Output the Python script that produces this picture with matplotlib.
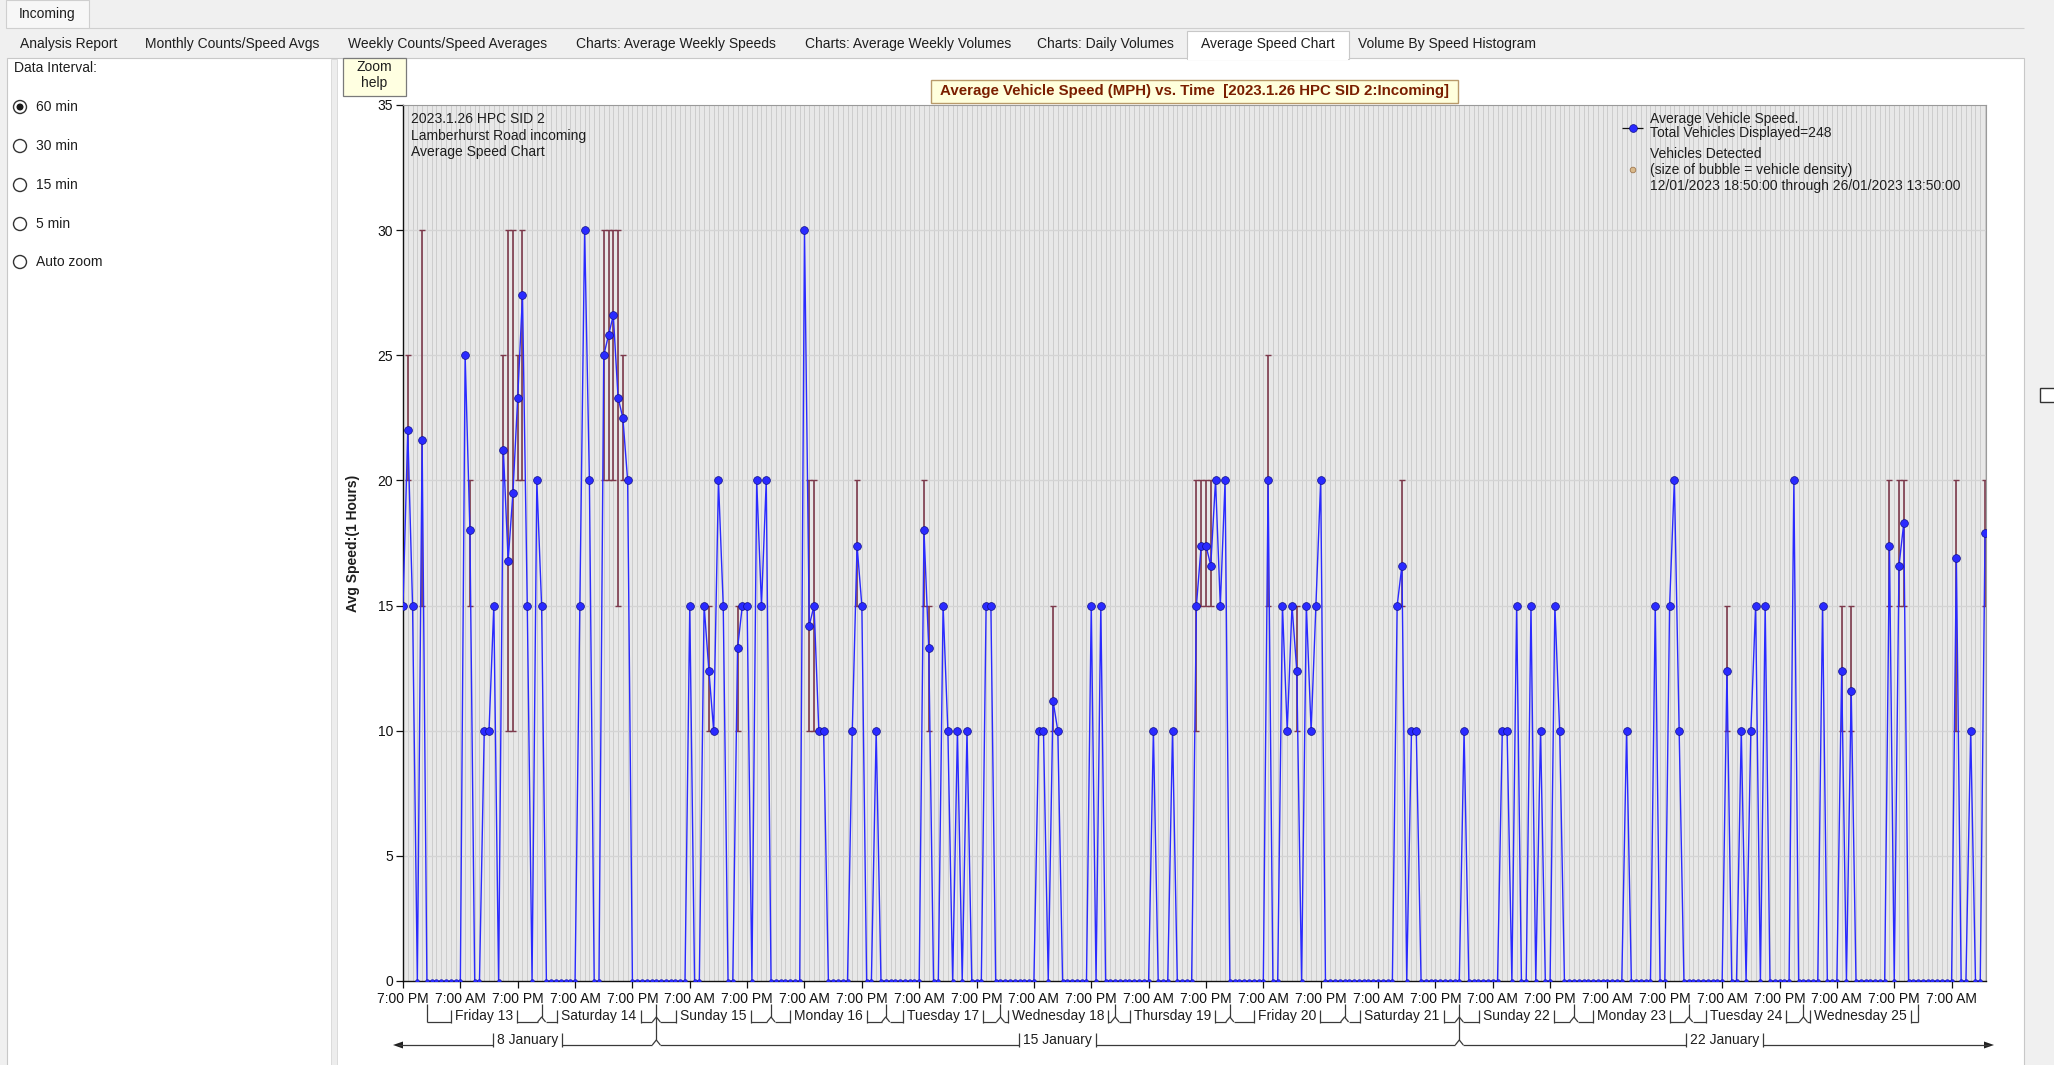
"""Average vehicle speed chart (SID 2, Lamberhurst Road incoming), 60 min interval.

Rebuilds the 'Average Speed Chart' tab of the speed logger viewer:
hourly average speed (blue), min/max speed range per hour (maroon),
plus the surrounding window chrome.

Writes:
    out.png
"""
import numpy as np
import matplotlib
matplotlib.use("Agg")
import matplotlib.pyplot as plt
from matplotlib.patches import Rectangle, Circle, Polygon


W, H = 2054, 1065

# ---------- data (hour 0 = 12/01/2023 19:00, one value per hour) ----------
N_HOURS = 332
X_END = 331.2

SPEED_HOURS = [
    0, 1, 2, 4, 13, 14, 17, 18, 19, 21, 22, 23, 24, 25, 26, 28, 29,
    37, 38, 39, 42, 43, 44, 45, 46, 47, 60, 63, 64, 65, 66, 67,
    70, 71, 72, 74, 75, 76, 84, 85, 86, 87, 88, 94, 95, 96, 99,
    109, 110, 113, 114, 116, 118, 122, 123, 133, 134, 136, 137,
    144, 146, 157, 161, 166, 167, 168, 169, 170, 171, 172, 181,
    184, 185, 186, 187, 189, 190, 191, 192, 208, 209, 211, 212,
    222, 230, 231, 233, 236, 238, 241, 242, 256, 262, 265, 266, 267,
    277, 280, 282, 283, 285, 291, 297, 301, 303, 311, 313, 314,
    325, 328, 331,
]
SPEED_VALUES = [
    15, 22, 15, 21.6, 25, 18, 10, 10, 15, 21.2, 16.8, 19.5, 23.3, 27.4, 15, 20, 15,
    15, 30, 20, 25, 25.8, 26.6, 23.3, 22.5, 20, 15, 15, 12.4, 10, 20, 15,
    13.3, 15, 15, 20, 15, 20, 30, 14.2, 15, 10, 10, 10, 17.4, 15, 10,
    18, 13.3, 15, 10, 10, 10, 15, 15, 10, 10, 11.2, 10,
    15, 15, 10, 10, 15, 17.4, 17.4, 16.6, 20, 15, 20, 20,
    15, 10, 15, 12.4, 15, 10, 15, 20, 15, 16.6, 10, 10,
    10, 10, 10, 15, 15, 10, 15, 10, 10, 15, 15, 20, 10,
    12.4, 10, 10, 15, 15, 20, 15, 12.4, 11.6, 17.4, 16.6, 18.3,
    16.9, 10, 17.9,
]

RANGE_HOURS = [1, 4, 14, 21, 22, 23, 24, 25, 42, 43, 44, 45, 46, 64, 70, 85, 86,
               95, 109, 110, 136, 166, 167, 168, 169, 181, 187, 209, 277, 301,
               303, 311, 313, 314, 325, 331]
RANGE_LOW = [20, 15, 15, 20, 10, 10, 20, 20, 20, 20, 20, 15, 20, 10, 10, 10, 10,
             15, 15, 10, 10, 10, 15, 15, 15, 15, 10, 15, 10, 10,
             10, 15, 15, 15, 10, 15]
RANGE_HIGH = [25, 30, 20, 25, 30, 30, 25, 30, 30, 30, 30, 30, 25, 15, 15, 20, 20,
              20, 20, 15, 15, 20, 20, 20, 20, 25, 15, 20, 15, 15,
              15, 20, 20, 20, 20, 20]

TICK_LABELS = ["7:00 PM", "7:00 AM"]
FIRST_MIDNIGHT = 5          # 13/01 00:00
DAY_NAMES = ["Friday 13", "Saturday 14", "Sunday 15", "Monday 16", "Tuesday 17",
             "Wednesday 18", "Thursday 19", "Friday 20", "Saturday 21", "Sunday 22",
             "Monday 23", "Tuesday 24", "Wednesday 25"]
WEEK_LABELS = ["8 January", "15 January", "22 January"]
WEEK_BOUNDS = [53, 221]     # 15/01 and 22/01 midnight

TABS = ["Analysis Report", "Monthly Counts/Speed Avgs", "Weekly Counts/Speed Averages",
        "Charts: Average Weekly Speeds", "Charts: Average Weekly Volumes",
        "Charts: Daily Volumes", "Average Speed Chart", "Volume By Speed Histogram"]
INTERVALS = ["60 min", "30 min", "15 min", "5 min", "Auto zoom"]

TITLE = "Average Vehicle Speed (MPH) vs. Time  [2023.1.26 HPC SID 2:Incoming]"
INFO = ["2023.1.26 HPC SID 2", "Lamberhurst Road incoming", "Average Speed Chart"]

BLUE = "#2a2aff"
MAROON = "#7d3a4c"
INK = "#1e1e1e"


# ---------- helpers ----------

def seg(ax, xs, ys, color="#3a3a3a", lw=0.9):
    ax.plot(xs, ys, color=color, lw=lw, solid_capstyle="butt", clip_on=False)


def draw_chrome(bg):
    """Window chrome in pixel coordinates (y down)."""
    bg.add_patch(Rectangle((0, 0), W, H, color="#f0f0f0"))
    # top-level tab
    bg.add_patch(Rectangle((6, 0), 83, 28, fc="#f7f7f7", ec="#cfcfcf", lw=0.8))
    bg.text(47, 14, "Incoming", ha="center", va="center", fontsize=10, color=INK)
    seg(bg, [89, 2024], [28, 28], color="#cfcfcf", lw=0.8)
    # second row of tabs
    centers = [69, 232, 448, 676, 908, 1105, 1268, 1447]
    bg.add_patch(Rectangle((7, 58), 2017, 1100, fc="white", ec="#c8c8c8", lw=0.8))
    bg.add_patch(Rectangle((1187, 31), 162, 28, fc="white", ec="#c8c8c8", lw=0.8))
    bg.add_patch(Rectangle((1188, 57), 160, 3, fc="white", ec="none"))
    for cx, name in zip(centers, TABS):
        bg.text(cx, 44, name, ha="center", va="center", fontsize=10, color=INK)
    # left panel separator
    bg.add_patch(Rectangle((331, 58.5), 6, 1100, fc="#ededed", ec="#d6d6d6", lw=0.6))
    # data interval radios
    bg.text(14, 68, "Data Interval:", ha="left", va="center", fontsize=10, color=INK)
    for i, (y, name) in enumerate(zip([107, 146, 185, 224, 262], INTERVALS)):
        bg.add_patch(Circle((20, y), 6.5, fc="white", ec="#333333", lw=1.0))
        if i == 0:
            bg.add_patch(Circle((20, y), 3.5, fc="#1a1a1a", ec="none"))
        bg.text(36, y, name, ha="left", va="center", fontsize=10, color=INK)
    # zoom help tooltip
    bg.add_patch(Rectangle((343, 58), 63, 38, fc="#ffffe1", ec="#7a7a7a", lw=0.9))
    bg.text(374.5, 67, "Zoom", ha="center", va="center", fontsize=10, color=INK)
    bg.text(374.5, 83, "help", ha="center", va="center", fontsize=10, color=INK)
    # title box
    bg.add_patch(Rectangle((931, 80), 527, 23, fc="#ffffdc", ec="#b89a6a", lw=1.0))
    bg.text(1194.5, 91.5, TITLE, ha="center", va="center", fontsize=10.8,
            fontweight="bold", color="#7a1e00")
    # stray checkbox at the right edge
    bg.add_patch(Rectangle((2040, 388), 16, 14, fc="white", ec="#333333", lw=1.0))


def draw_plot(ax):
    hours = np.arange(N_HOURS)
    speeds = np.zeros(N_HOURS)
    speeds[SPEED_HOURS] = SPEED_VALUES
    zero_h = hours[speeds == 0]

    ax.set_facecolor("#e8e8e8")
    ax.vlines(hours, 0, 35, colors="#cdcdcd", lw=0.7, zorder=0)
    for y in range(5, 35, 5):
        ax.axhline(y, color="#d4d4d4", lw=1.0, zorder=0.5)

    ax.vlines(RANGE_HOURS, RANGE_LOW, RANGE_HIGH, colors=MAROON, lw=1.2, zorder=2)
    ax.plot(RANGE_HOURS, RANGE_LOW, "_", ms=5, mew=1.0, color=MAROON, zorder=2)
    ax.plot(RANGE_HOURS, RANGE_HIGH, "_", ms=5, mew=1.0, color=MAROON, zorder=2)

    ax.plot(hours, speeds, color=BLUE, lw=1.0, zorder=3)
    ax.plot(zero_h, np.zeros(len(zero_h)), "o", ms=2.8, mfc=BLUE, mec="#1010a0",
            mew=0.3, zorder=4)
    ax.plot(SPEED_HOURS, SPEED_VALUES, "o", ms=5.6, mfc=BLUE, mec="#10108a",
            mew=0.5, zorder=4)

    ax.set_xlim(0, X_END)
    ax.set_ylim(0, 35)
    ticks = np.arange(0, N_HOURS, 12)
    ax.set_xticks(ticks)
    ax.set_xticklabels([TICK_LABELS[i % 2] for i in range(len(ticks))])
    ax.set_yticks(range(0, 36, 5))
    ax.tick_params(axis="both", labelsize=10, colors="#111111", length=5,
                   width=0.9, pad=2)
    ax.tick_params(axis="x", pad=3)
    for side in ("left", "bottom"):
        ax.spines[side].set_color("#111111")
        ax.spines[side].set_linewidth(1.0)
    for side in ("top", "right"):
        ax.spines[side].set_color("#9a9a9a")
        ax.spines[side].set_linewidth(0.8)
    ax.set_ylabel("Avg Speed:(1 Hours)", fontsize=10, fontweight="bold", color=INK)
    ax.yaxis.set_label_coords(-0.027, 0.5)

    for i, line in enumerate(INFO):
        ax.text(0.005, 0.984 - i * 0.0189, line, transform=ax.transAxes,
                ha="left", va="center", fontsize=10, color=INK)


def draw_legend(top):
    seg(top, [1622, 1643], [128, 128], color="#111111", lw=0.9)
    top.plot([1633], [128], "o", ms=5.6, mfc=BLUE, mec="#10108a", mew=0.5)
    top.text(1650, 119, "Average Vehicle Speed.", ha="left", va="center",
             fontsize=10, color=INK)
    top.text(1650, 133, "Total Vehicles Displayed=248", ha="left", va="center",
             fontsize=10, color=INK)
    top.text(1650, 154, "Vehicles Detected", ha="left", va="center",
             fontsize=10, color=INK)
    top.add_patch(Circle((1633, 170), 2.8, fc="#d9b98a", ec="#a07850", lw=0.6))
    top.text(1650, 170, "(size of bubble = vehicle density)", ha="left",
             va="center", fontsize=10, color=INK)
    top.text(1650, 186, "12/01/2023 18:50:00 through 26/01/2023 13:50:00",
             ha="left", va="center", fontsize=10, color=INK)


def draw_date_rows(fig, ax, top):
    renderer = fig.canvas.get_renderer()

    def hx(h):
        return ax.transData.transform((h, 0))[0]

    def label(x, y, text):
        t = top.text(x, y, text, ha="center", va="center", fontsize=10, color=INK)
        bb = t.get_window_extent(renderer=renderer)
        return bb.x0 - 4, bb.x1 + 4

    # day row
    y_txt, y_ln, y_top = 1016, 1022, 1004
    mids = [hx(FIRST_MIDNIGHT + 24 * i) for i in range(len(DAY_NAMES) + 1)]
    for i, name in enumerate(DAY_NAMES):
        a, b = mids[i], mids[i + 1]
        x0, x1 = label((a + b) / 2, y_txt, name)
        seg(top, [a + (4 if i > 0 else 0), x0], [y_ln, y_ln])
        seg(top, [x1, b - (4 if i < len(DAY_NAMES) - 1 else 0)], [y_ln, y_ln])
        seg(top, [x0, x0], [y_ln - 12, y_ln + 1])
        seg(top, [x1, x1], [y_ln - 12, y_ln + 1])
    for i, m in enumerate(mids):
        if 0 < i < len(mids) - 1:
            seg(top, [m, m], [y_top, y_ln - 5])
            seg(top, [m - 4, m, m + 4], [y_ln, y_ln - 5, y_ln])
        else:
            seg(top, [m, m], [y_top, y_ln])

    # week row
    w_txt, w_ln = 1040, 1045
    left_end, right_end = hx(0) - 5, hx(X_END) + 3
    bounds = [hx(h) for h in WEEK_BOUNDS]
    edges = [left_end] + bounds + [right_end]
    for i, name in enumerate(WEEK_LABELS):
        a, b = edges[i], edges[i + 1]
        x0, x1 = label((a + b) / 2, w_txt, name)
        seg(top, [a + (4 if i > 0 else 0), x0], [w_ln, w_ln])
        seg(top, [x1, b - (4 if i < len(WEEK_LABELS) - 1 else 0)], [w_ln, w_ln])
        seg(top, [x0, x0], [w_ln - 12, w_ln + 2])
        seg(top, [x1, x1], [w_ln - 12, w_ln + 2])
    for m in bounds:
        seg(top, [m, m], [y_ln - 5, w_ln - 5])
        seg(top, [m - 4, m, m + 4], [w_ln, w_ln - 5, w_ln])
    top.add_patch(Polygon([[left_end - 5, w_ln], [left_end + 5, w_ln - 3.5],
                           [left_end + 5, w_ln + 3.5]], closed=True,
                          fc="#222222", ec="none"))
    top.add_patch(Polygon([[right_end + 5, w_ln], [right_end - 5, w_ln - 3.5],
                           [right_end - 5, w_ln + 3.5]], closed=True,
                          fc="#222222", ec="none"))


# ---------- main ----------

def main() -> None:
    plt.rcParams["font.family"] = ["Liberation Sans", "DejaVu Sans"]
    fig = plt.figure(figsize=(W / 100, H / 100), dpi=100)

    bg = fig.add_axes([0, 0, 1, 1], zorder=0)
    bg.set_xlim(0, W); bg.set_ylim(H, 0); bg.axis("off")
    draw_chrome(bg)

    ax = fig.add_axes([403 / W, (H - 981) / H, 1583 / W, 876 / H], zorder=1)
    draw_plot(ax)

    top = fig.add_axes([0, 0, 1, 1], zorder=2)
    top.set_xlim(0, W); top.set_ylim(H, 0); top.axis("off")
    top.patch.set_visible(False)
    draw_legend(top)
    draw_date_rows(fig, ax, top)

    fig.savefig("out.png", dpi=100)
    plt.close(fig)


if __name__ == "__main__":
    main()
